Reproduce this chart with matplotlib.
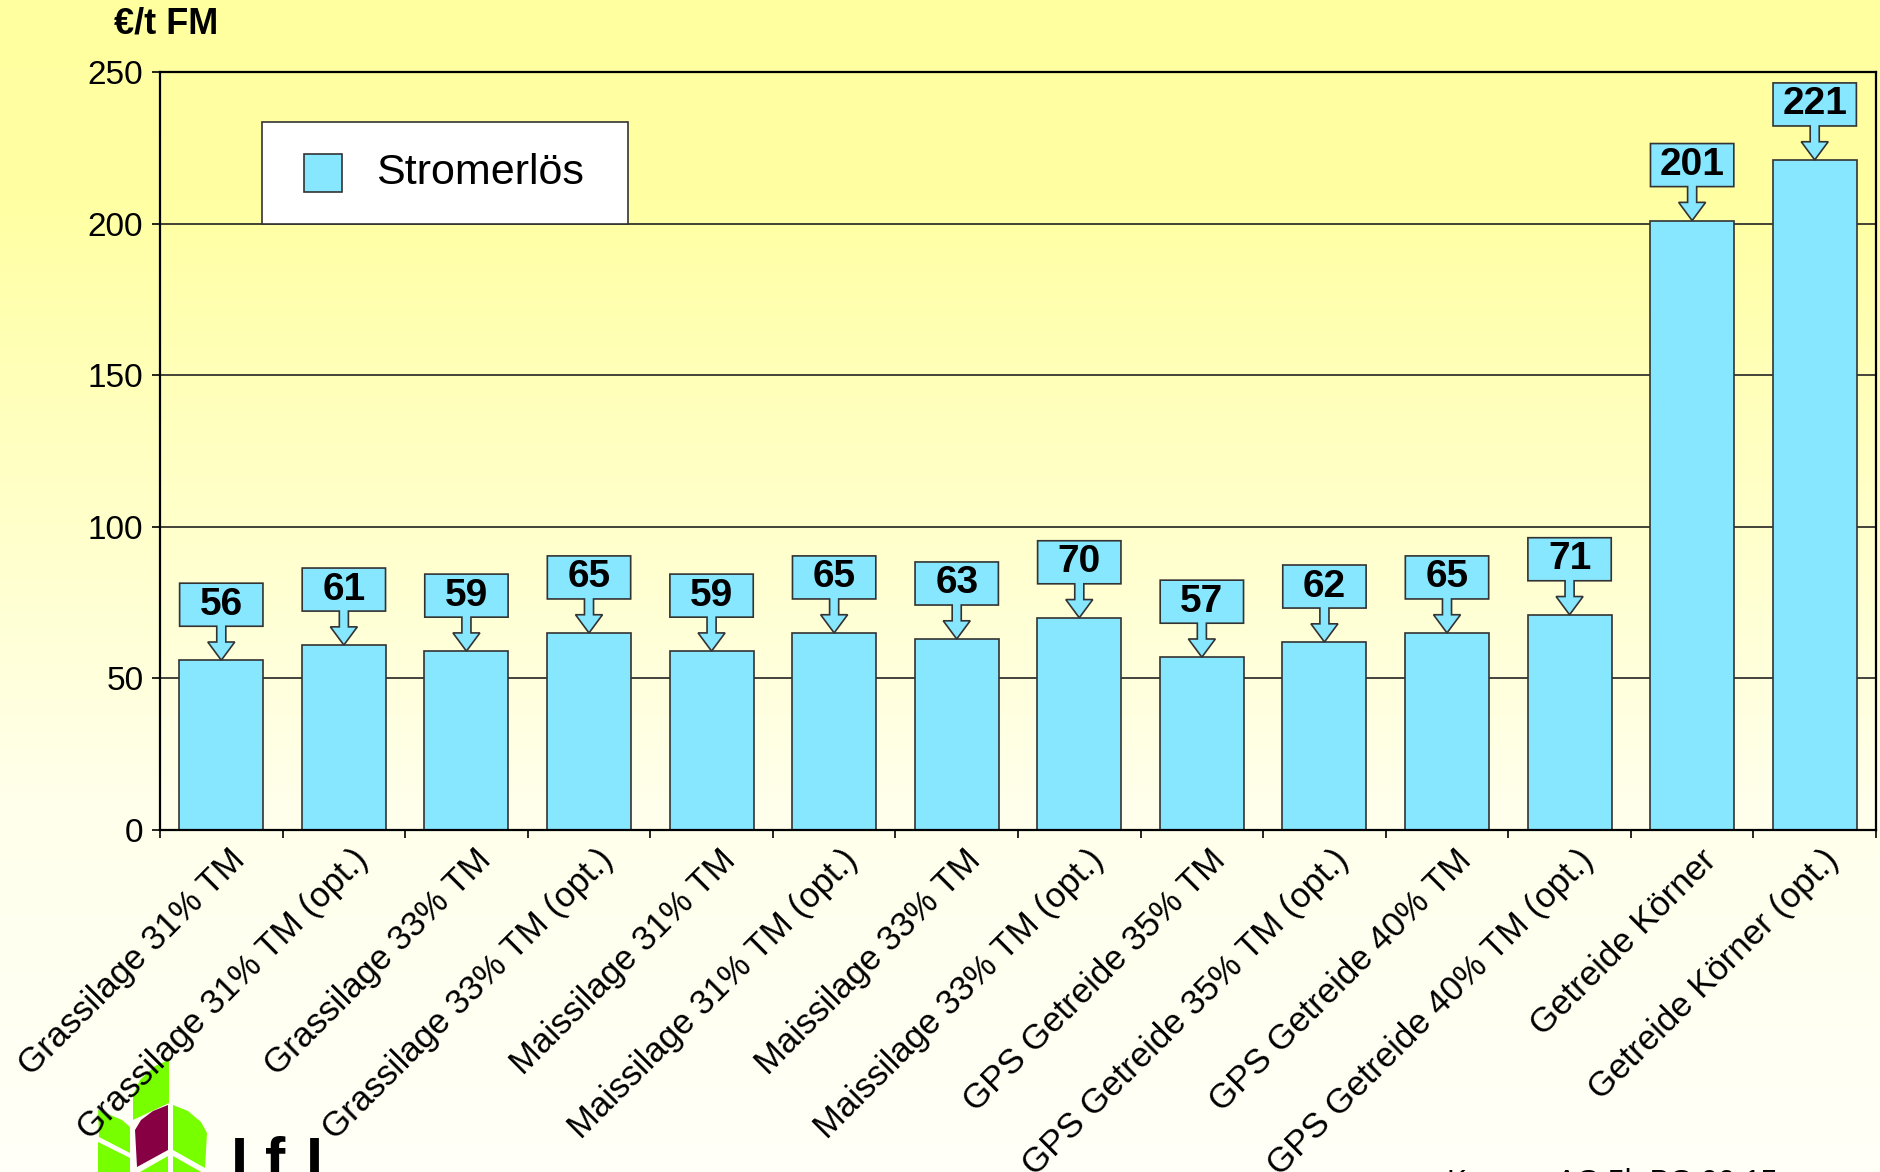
import numpy as np
import matplotlib
matplotlib.use("Agg")
import matplotlib.pyplot as plt
from matplotlib.patches import Polygon, Rectangle
from matplotlib.ticker import FixedLocator
import matplotlib.transforms as mtransforms

plt.rcParams['font.family'] = ['Liberation Sans', 'DejaVu Sans']

categories = ["Grassilage 31% TM", "Grassilage 31% TM (opt.)",
              "Grassilage 33% TM", "Grassilage 33% TM (opt.)",
              "Maissilage 31% TM", "Maissilage 31% TM (opt.)",
              "Maissilage 33% TM", "Maissilage 33% TM (opt.)",
              "GPS Getreide 35% TM", "GPS Getreide 35% TM (opt.)",
              "GPS Getreide 40% TM", "GPS Getreide 40% TM (opt.)",
              "Getreide Körner", "Getreide Körner (opt.)"]
values = [56, 61, 59, 65, 59, 65, 63, 70, 57, 62, 65, 71, 201, 221]
yticks = [0, 50, 100, 150, 200, 250]
series_name = "Stromerlös"
unit_label = "€/t FM"

W, H = 1881, 1172
fig = plt.figure(figsize=(W / 100, H / 100), dpi=100)

def fx(px):
    return px / W

def fy(py):
    return 1 - py / H

# background gradient
bg = fig.add_axes([0, 0, 1, 1], zorder=-1)
ys = np.array([0, 200, 500, 800, 1172])
bvals = np.array([160, 163, 200, 235, 248])
yy = np.arange(H)
b = np.interp(yy, ys, bvals) / 255.0
img = np.ones((H, 1, 3))
img[:, 0, 2] = b
bg.imshow(img, aspect='auto', extent=[0, 1, 0, 1], origin='upper')
bg.set_axis_off()

BAR = '#86E7FF'
EDGE = '#333333'

ax = fig.add_axes([fx(160), fy(830), fx(1876) - fx(160), fy(72) - fy(830)])
ax.set_facecolor('none')
x = np.arange(len(categories))
ax.bar(x, values, width=0.685, color=BAR, edgecolor=EDGE, linewidth=1.2, zorder=2)
ax.set_xlim(-0.5, len(categories) - 0.5)
ax.set_ylim(0, 250)
ax.set_yticks(yticks)
ax.tick_params(axis='y', labelsize=24, length=6, width=1.2, pad=6, direction='out')
ax.yaxis.grid(True, color='#222222', linewidth=1.2)
ax.set_axisbelow(True)
ax.set_xticks(x)
ax.set_xticklabels(categories, rotation=45, ha='right', va='center',
                   rotation_mode='anchor', fontsize=25)
ax.tick_params(axis='x', which='major', length=0, pad=18)
shift = mtransforms.ScaledTranslation(0.19, 0, fig.dpi_scale_trans)
for lab in ax.get_xticklabels():
    lab.set_transform(lab.get_transform() + shift)
ax.xaxis.set_minor_locator(FixedLocator(np.arange(-0.5, len(categories), 1.0)))
ax.tick_params(axis='x', which='minor', length=6, width=1.2, direction='out')
for s in ax.spines.values():
    s.set_linewidth(1.6)
    s.set_color('black')

# callouts
hw, sw, hdw = 0.34, 0.037, 0.11
gap, boxh, headh = 11.2, 14.2, 6.0
for i, v in enumerate(values):
    b0 = v + gap
    b1 = b0 + boxh
    pts = [(i - hw, b1), (i + hw, b1), (i + hw, b0), (i + sw, b0),
           (i + sw, v + headh), (i + hdw, v + headh), (i, v),
           (i - hdw, v + headh), (i - sw, v + headh), (i - sw, b0), (i - hw, b0)]
    ax.add_patch(Polygon(pts, closed=True, facecolor=BAR, edgecolor=EDGE,
                         linewidth=1.2, zorder=4, clip_on=False))
    ax.text(i, (b0 + b1) / 2, f"{v}", ha='center', va='center', fontsize=28,
            fontweight='bold', zorder=5)

# legend box (manual)
fig.add_artist(Rectangle((fx(262), fy(224)), fx(628) - fx(262), fy(122) - fy(224),
                         transform=fig.transFigure, facecolor='white',
                         edgecolor='#333333', linewidth=1.2, zorder=3))
fig.add_artist(Rectangle((fx(304), fy(192)), fx(342) - fx(304), fy(154) - fy(192),
                         transform=fig.transFigure, facecolor=BAR,
                         edgecolor=EDGE, linewidth=1.2, zorder=3.1))
fig.text(fx(376), fy(173), series_name, fontsize=31, ha='left', va='center', zorder=3.2)

# unit label
fig.text(fx(114), fy(24), unit_label, fontsize=26, fontweight='bold',
         ha='left', va='center')

# logo
GREEN = '#77FF00'
MAROON = '#880044'
leaves = [
    ([(169, 1060), (169, 1103), (133, 1120), (133, 1095), (140, 1080), (155, 1066)], GREEN),
    ([(168, 1105), (168, 1150), (137, 1167), (135, 1130), (141, 1120), (153, 1111)], MAROON),
    ([(173, 1105), (173, 1150), (205, 1168), (207, 1133), (201, 1122), (188, 1111)], GREEN),
    ([(130, 1127), (130, 1153), (99, 1137), (98, 1110), (108, 1114), (122, 1120)], GREEN),
    ([(130, 1158), (130, 1172), (98, 1172), (98, 1142)], GREEN),
    ([(168, 1156), (168, 1172), (140, 1172)], GREEN),
    ([(173, 1156), (173, 1172), (203, 1172), (203, 1173)], GREEN),
]
for pts, col in leaves:
    fig.add_artist(Polygon([(fx(a), fy(c)) for a, c in pts], closed=True,
                           transform=fig.transFigure, facecolor=col,
                           edgecolor='none', zorder=-0.5))
for ch, px in zip(["L", "f", "L"], [231, 265, 306]):
    fig.text(fx(px), fy(1180), ch, fontsize=44, fontweight='bold',
             ha='left', va='baseline', zorder=-0.5)
fig.text(fx(1447), fy(1190.5), "Keymer AG 5b BG 06-15", fontsize=21.5,
         ha='left', va='baseline', zorder=-0.5)

fig.savefig("out.png", dpi=100)
